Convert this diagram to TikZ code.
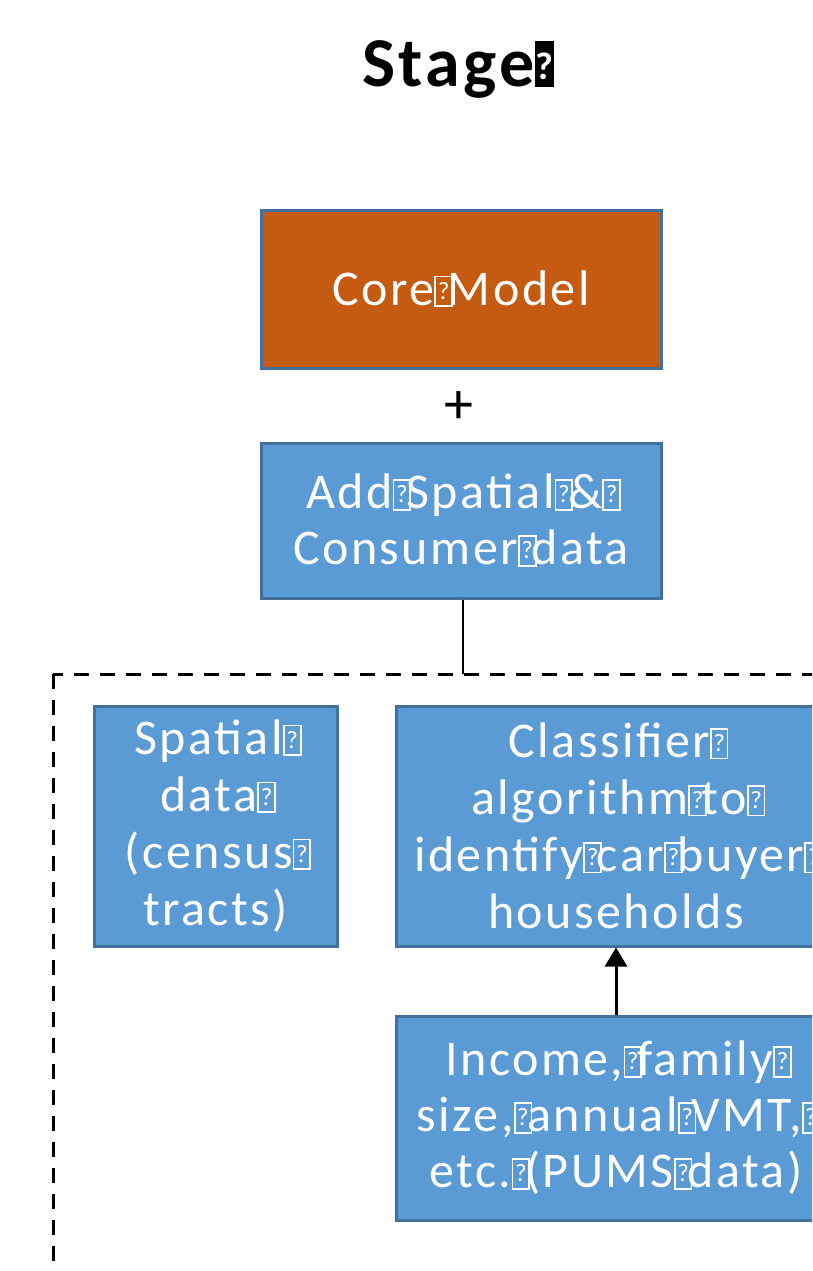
\documentclass[tikz,border=0pt]{standalone}
\usepackage{fontspec}
\setmainfont{Carlito}[LetterSpace=5]
\usetikzlibrary{arrows.meta}
\definecolor{bfill}{HTML}{5B9BD5}
\definecolor{bline}{HTML}{41719C}
\definecolor{ofill}{HTML}{C55A11}
\newcommand\tofu{\makebox[0.27em][l]{\fboxsep=0pt\fboxrule=0.035em\fbox{\makebox[0.3em]{\rule{0pt}{0.56em}\raisebox{0.12em}{\scalebox{0.5}{?}}}}}}
\newcommand\tofub{\makebox[0.27em][l]{\rlap{\rule{0.27em}{0.66em}}\makebox[0.27em]{\raisebox{0.1em}{\color{white}\scalebox{0.55}{?}}}}}
\tikzset{
  boxbase/.style={draw=bline, line width=3pt, text=white, align=center, inner sep=0pt,
    font=\fontsize{50}{56}\selectfont},
  bluebox/.style={boxbase, fill=bfill},
  orangebox/.style={boxbase, fill=ofill},
  frame/.style={draw=black, line width=3pt, dash pattern=on 15pt off 11pt},
  conn/.style={draw=black, line width=2.5pt},
  arrowconn/.style={draw=black, line width=3pt, -{Triangle[width=22pt,length=19pt]}},
}
\begin{document}
\begin{tikzpicture}[x=1pt,y=-1pt]
\useasboundingbox (0,0) rectangle (812,1271);
\clip (0,0) rectangle (812,1271);
\fill[white] (0,0) rectangle (812,1271);
\node[font=\fontsize{70}{74}\selectfont\bfseries, anchor=base] (title) at (458,87) {Stage\tofub};
\node[orangebox, minimum width=400pt, minimum height=158pt] (core) at (461,289) {Core\tofu Model};
\node[font=\fontsize{58}{60}\selectfont] (plus) at (459,408) {+};
\node[bluebox, minimum width=400pt, minimum height=155pt] (add) at (461,520.5) {Add\tofu Spatial\tofu\&\tofu\\Consumer\tofu data};
\draw[frame] (53,674) rectangle (1000,1500);
\coordinate (ft) at (463,674);
\draw[conn] (add.south -| ft) -- (ft);
\node[bluebox, minimum width=243pt, minimum height=240pt, font=\fontsize{50}{57}\selectfont] (spatial) at (215.5,826) {Spatial\tofu\\data\tofu\\(census\tofu\\tracts)};
\node[bluebox, minimum width=440pt, minimum height=240pt, font=\fontsize{50}{57}\selectfont] (classifier) at (616,826) {Classifier\tofu\\algorithm\tofu to\tofu\\identify\tofu car\tofu buyer\tofu\\households};
\node[bluebox, minimum width=440pt, minimum height=204pt, font=\fontsize{50}{56}\selectfont] (income) at (616,1118) {Income,\tofu family\tofu\\size,\tofu annual\tofu VMT,\tofu\\etc.\tofu(PUMS\tofu data)};
\draw[arrowconn] (income.north) -- (classifier.south);
\end{tikzpicture}
\end{document}
